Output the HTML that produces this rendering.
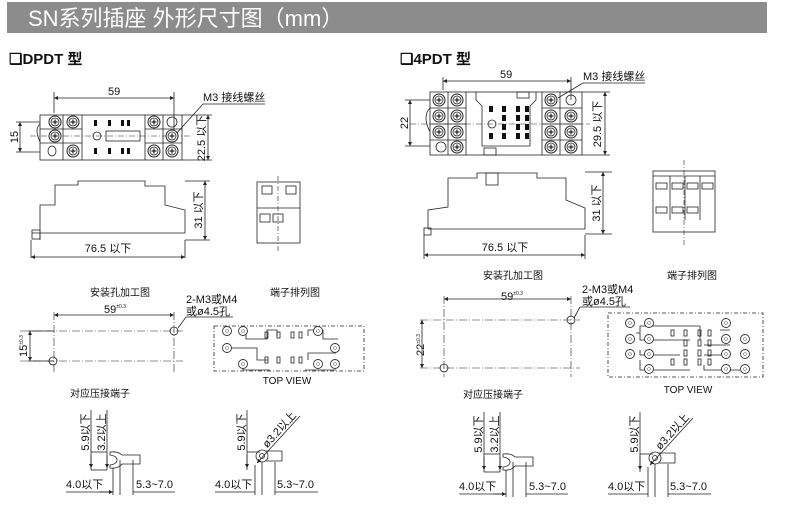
<!DOCTYPE html>
<html><head><meta charset="utf-8"><style>
html,body{margin:0;padding:0;background:#fff;}
svg{display:block;font-family:"Liberation Sans","Noto Sans CJK SC",sans-serif;}
</style></head><body>
<svg width="790" height="507" viewBox="0 0 790 507" xmlns="http://www.w3.org/2000/svg">
<defs>
<g id="scr"><circle r="6" fill="#fff" stroke="#222" stroke-width="1"/><circle r="4" fill="none" stroke="#222" stroke-width="0.8"/><path d="M-2.5 0H2.5M0 -2.5V2.5" stroke="#222" stroke-width="1.2"/></g>
<g id="tc"><circle r="4.5" fill="#fff" stroke="#333" stroke-width="0.9"/><circle r="1.5" fill="none" stroke="#666" stroke-width="0.6"/></g>
<marker id="a" viewBox="0 0 6 6" refX="6" refY="3" markerWidth="5" markerHeight="5" orient="auto-start-reverse"><path d="M0 0L6 3L0 6z" fill="#222"/></marker>
</defs>
<rect x="7" y="2" width="760" height="31" fill="#8c8c8c"/>
<text x="28" y="26" font-size="22" fill="#fff">SN系列插座 外形尺寸图（mm）</text>

<text x="9" y="64" font-size="15" font-weight="bold" fill="#111">❑DPDT 型</text>
<text x="400" y="64" font-size="15" font-weight="bold" fill="#111">❑4PDT 型</text>

<g stroke="#222" fill="none" stroke-width="0.8">
<!-- DPDT top view -->
<rect x="40" y="115" width="142" height="45"/>
<line x1="63" y1="115" x2="63" y2="160"/><line x1="82" y1="115" x2="82" y2="160"/>
<line x1="145" y1="115" x2="145" y2="160"/><line x1="163" y1="115" x2="163" y2="160"/>
<line x1="40" y1="129" x2="82" y2="129"/><line x1="40" y1="143" x2="82" y2="143"/>
<line x1="145" y1="129" x2="182" y2="129"/><line x1="145" y1="143" x2="182" y2="143"/>
<path d="M40 124 q-6 5 0 18"/>
<line x1="30" y1="136" x2="190" y2="136" stroke-dasharray="6 2 1 2" stroke-width="0.6"/>
<circle cx="97" cy="136" r="4"/><rect x="106" y="131" width="34" height="10"/>
<ellipse cx="52" cy="151" rx="4" ry="5"/><ellipse cx="172" cy="122" rx="5" ry="5"/>
<line x1="54" y1="92" x2="54" y2="113"/><line x1="174" y1="92" x2="174" y2="135"/>
<line x1="54" y1="98" x2="174" y2="98" marker-start="url(#a)" marker-end="url(#a)"/>
<line x1="175" y1="135" x2="203" y2="104"/><line x1="203" y1="104" x2="265" y2="104"/>
<line x1="182" y1="115" x2="212" y2="115"/><line x1="182" y1="160" x2="212" y2="160"/>
<line x1="208" y1="115" x2="208" y2="160" marker-start="url(#a)" marker-end="url(#a)"/>
<line x1="16" y1="122" x2="40" y2="122"/><line x1="16" y1="152" x2="40" y2="152"/>
<line x1="20" y1="122" x2="20" y2="152" marker-start="url(#a)" marker-end="url(#a)"/>
<!-- DPDT side -->
<path d="M32 233 H185 V210 L165 205 V186 H145 V181 H78 V185 H55 V205 H40 V233"/>
<rect x="32" y="230" width="8" height="9"/>
<line x1="40" y1="233" x2="40" y2="240"/>
<line x1="185" y1="181" x2="210" y2="181"/><line x1="185" y1="240" x2="210" y2="240"/>
<line x1="205" y1="181" x2="205" y2="240" marker-start="url(#a)" marker-end="url(#a)"/>
<line x1="31" y1="240" x2="31" y2="258"/><line x1="185" y1="240" x2="185" y2="258"/>
<line x1="31" y1="257" x2="185" y2="257" marker-start="url(#a)" marker-end="url(#a)"/>
<!-- DPDT end -->
<rect x="257" y="182" width="43" height="61"/>
<line x1="257" y1="208" x2="300" y2="208"/>
<line x1="278" y1="176" x2="278" y2="252" stroke-dasharray="5 2 1 2" stroke-width="0.6"/>
<rect x="262" y="186" width="10" height="8"/><rect x="286" y="186" width="10" height="8"/>
<rect x="260" y="214" width="10" height="8"/><rect x="273" y="214" width="10" height="8"/>

<!-- 4PDT top -->
<rect x="430" y="92" width="152" height="63"/>
<line x1="448" y1="92" x2="448" y2="155"/><line x1="466" y1="92" x2="466" y2="155"/>
<line x1="542" y1="92" x2="542" y2="155"/><line x1="560" y1="92" x2="560" y2="155"/>
<line x1="430" y1="108" x2="466" y2="108"/><line x1="430" y1="124" x2="466" y2="124"/><line x1="430" y1="140" x2="466" y2="140"/>
<line x1="542" y1="108" x2="582" y2="108"/><line x1="542" y1="124" x2="582" y2="124"/><line x1="542" y1="140" x2="582" y2="140"/>
<path d="M476 92 V100 L482 106 V146 H530 V106 L536 100 V92"/>
<rect x="517" y="92" width="12" height="6"/><rect x="484" y="148" width="12" height="7"/>
<circle cx="492" cy="124" r="4"/>
<ellipse cx="441" cy="147" rx="5" ry="5"/><ellipse cx="571" cy="100" rx="5" ry="5"/>
<line x1="410" y1="124" x2="590" y2="124" stroke-dasharray="6 2 1 2" stroke-width="0.6"/>
<path d="M430 108 q-8 8 0 24"/>
<line x1="443" y1="77" x2="443" y2="90"/><line x1="571" y1="77" x2="571" y2="100"/>
<line x1="443" y1="81" x2="571" y2="81" marker-start="url(#a)" marker-end="url(#a)"/>
<line x1="558" y1="98" x2="583" y2="83"/><line x1="583" y1="83" x2="645" y2="83"/>
<line x1="582" y1="92" x2="610" y2="92"/><line x1="582" y1="155" x2="610" y2="155"/>
<line x1="605" y1="92" x2="605" y2="155" marker-start="url(#a)" marker-end="url(#a)"/>
<line x1="405" y1="100" x2="430" y2="100"/><line x1="405" y1="146" x2="430" y2="146"/>
<line x1="410" y1="100" x2="410" y2="146" marker-start="url(#a)" marker-end="url(#a)"/>
<!-- 4PDT side -->
<path d="M428 229 H585 V208 L566 200 V178 H537 V173 H477 V178 H448 V207 L428 210 V229"/>
<rect x="424" y="228" width="7" height="7"/>
<rect x="486" y="173" width="12" height="12"/>
<line x1="585" y1="172" x2="612" y2="172"/><line x1="585" y1="234" x2="612" y2="234"/>
<line x1="603" y1="172" x2="603" y2="234" marker-start="url(#a)" marker-end="url(#a)"/>
<line x1="424" y1="235" x2="424" y2="259"/><line x1="585" y1="235" x2="585" y2="259"/>
<line x1="424" y1="255" x2="585" y2="255" marker-start="url(#a)" marker-end="url(#a)"/>
<!-- 4PDT end -->
<rect x="653" y="171" width="62" height="61"/>
<line x1="653" y1="176" x2="715" y2="176"/>
<line x1="670" y1="176" x2="670" y2="220"/><line x1="685" y1="176" x2="685" y2="220"/><line x1="700" y1="176" x2="700" y2="220"/>
<line x1="684" y1="160" x2="684" y2="247" stroke-dasharray="5 2 1 2" stroke-width="0.6"/>
<rect x="656" y="183" width="11" height="6"/><rect x="672" y="183" width="11" height="6"/><rect x="687" y="183" width="11" height="6"/><rect x="702" y="183" width="11" height="6"/>
<rect x="656" y="207" width="11" height="6"/><rect x="672" y="207" width="11" height="6"/><rect x="687" y="207" width="11" height="6"/>
</g>

<!-- screws DPDT -->
<use href="#scr" x="55" y="122"/><use href="#scr" x="73" y="122"/><use href="#scr" x="55" y="136"/><use href="#scr" x="73" y="151"/>
<use href="#scr" x="154" y="122"/><use href="#scr" x="172" y="136"/><use href="#scr" x="154" y="151"/><use href="#scr" x="172" y="151"/>
<g fill="#111"><rect x="94" y="120" width="3" height="6"/><rect x="108" y="120" width="3" height="6"/><rect x="121" y="120" width="3" height="6"/><rect x="127" y="120" width="3" height="6"/>
<rect x="94" y="148" width="3" height="6"/><rect x="108" y="148" width="3" height="6"/><rect x="121" y="148" width="3" height="6"/><rect x="127" y="148" width="3" height="6"/></g>
<!-- screws 4PDT -->
<use href="#scr" x="439" y="100"/><use href="#scr" x="457" y="100"/>
<use href="#scr" x="439" y="116"/><use href="#scr" x="457" y="116"/>
<use href="#scr" x="439" y="132"/><use href="#scr" x="457" y="132"/><use href="#scr" x="457" y="147"/>
<use href="#scr" x="551" y="100"/>
<use href="#scr" x="551" y="116"/><use href="#scr" x="571" y="116"/>
<use href="#scr" x="551" y="132"/><use href="#scr" x="571" y="132"/>
<use href="#scr" x="551" y="147"/><use href="#scr" x="571" y="147"/>
<g fill="#111">
<rect x="489" y="106" width="4" height="6"/><rect x="489" y="133" width="4" height="6"/>
<rect x="502" y="106" width="4" height="6"/><rect x="502" y="115" width="4" height="6"/><rect x="502" y="124" width="4" height="6"/><rect x="502" y="133" width="4" height="6"/>
<rect x="516" y="106" width="4" height="6"/><rect x="516" y="115" width="4" height="6"/><rect x="516" y="124" width="4" height="6"/><rect x="516" y="133" width="4" height="6"/>
<rect x="525" y="106" width="4" height="6"/><rect x="525" y="115" width="4" height="6"/><rect x="525" y="124" width="4" height="6"/><rect x="525" y="133" width="4" height="6"/>
</g>

<g font-size="11" fill="#111">
<text x="108" y="95">59</text>
<text x="203" y="101">M3 接线螺丝</text>
<text transform="translate(205,138) rotate(-90)" text-anchor="middle">22.5 以下</text>
<text transform="translate(18,137) rotate(-90)" text-anchor="middle">15</text>
<text transform="translate(202,210) rotate(-90)" text-anchor="middle">31 以下</text>
<text x="108" y="252" text-anchor="middle">76.5 以下</text>
<text x="500" y="78">59</text>
<text x="583" y="80">M3 接线螺丝</text>
<text transform="translate(601,124) rotate(-90)" text-anchor="middle">29.5 以下</text>
<text transform="translate(408,123) rotate(-90)" text-anchor="middle">22</text>
<text transform="translate(600,203) rotate(-90)" text-anchor="middle">31 以下</text>
<text x="505" y="251" text-anchor="middle">76.5 以下</text>

<text x="120" y="296" text-anchor="middle" font-size="10">安装孔加工图</text>
<text x="295" y="296" text-anchor="middle" font-size="10">端子排列图</text>
<text x="513" y="279" text-anchor="middle" font-size="10">安装孔加工图</text>
<text x="692" y="279" text-anchor="middle" font-size="10">端子排列图</text>
<text x="104" y="313">59<tspan font-size="5" dy="-5">±0.3</tspan></text>
<text x="186" y="303">2-M3或M4</text><text x="186" y="315">或ø4.5孔</text>
<text x="501" y="300">59<tspan font-size="5" dy="-5">±0.3</tspan></text>
<text x="582" y="293">2-M3或M4</text><text x="582" y="305">或ø4.5孔</text>
<text transform="translate(27,346) rotate(-90)" text-anchor="middle">15<tspan font-size="5" dy="-4">±0.3</tspan></text>
<text transform="translate(424,345) rotate(-90)" text-anchor="middle">22<tspan font-size="5" dy="-4">±0.3</tspan></text>
<text x="287" y="384" text-anchor="middle" font-size="10">TOP VIEW</text>
<text x="688" y="393" text-anchor="middle" font-size="10">TOP VIEW</text>
<text x="70" y="397" font-size="10">对应压接端子</text>
<text x="463" y="398" font-size="10">对应压接端子</text>
</g>

<g stroke="#222" fill="none" stroke-width="0.8">
<line x1="233" y1="317" x2="186" y2="317"/><line x1="186" y1="317" x2="178" y2="328"/>
<line x1="630" y1="307" x2="580" y2="307"/><line x1="580" y1="307" x2="574" y2="318"/>
<g stroke-dasharray="8 2 1 2" stroke-width="0.6">
<line x1="20" y1="331" x2="183" y2="331"/><line x1="20" y1="361" x2="183" y2="361"/>
<line x1="54" y1="312" x2="54" y2="372"/><line x1="174" y1="312" x2="174" y2="372"/>
<line x1="420" y1="320" x2="580" y2="320"/><line x1="420" y1="368" x2="580" y2="368"/>
<line x1="444" y1="296" x2="444" y2="377"/><line x1="571" y1="296" x2="571" y2="377"/>
</g>
<circle cx="174" cy="331" r="4"/><circle cx="53" cy="361" r="4"/>
<circle cx="571" cy="320" r="4"/><circle cx="444" cy="368" r="4"/>
<line x1="54" y1="315" x2="174" y2="315" marker-start="url(#a)" marker-end="url(#a)"/>
<line x1="444" y1="299" x2="571" y2="299" marker-start="url(#a)" marker-end="url(#a)"/>
<line x1="30" y1="331" x2="30" y2="361" marker-start="url(#a)" marker-end="url(#a)"/>
<line x1="422" y1="320" x2="422" y2="368" marker-start="url(#a)" marker-end="url(#a)"/>
<line x1="28" y1="331" x2="54" y2="331"/><line x1="28" y1="361" x2="54" y2="361"/>
<rect x="214" y="326" width="150" height="45" stroke-dasharray="4 2 1 2"/>
<rect x="608" y="313" width="155" height="64" stroke-dasharray="4 2 1 2"/>
<path d="M246 330 V339 H267 V330 H277 V336 M308 336 V330 H323 V339 H338"/>
<path d="M228 348 H257 V360 H268 M308 360 V353 H320 H336"/>
<path d="M243 364 V370 H270 M305 370 H336"/>
<path d="M636 333 H640 V326 H700 M640 333 V340 H660 H690 M640 360 V370 H690 M640 350 V355 H680 M700 326 V340 M704 345 H730 M704 355 H730 M720 330 H730 M704 365 V370 H740"/>
</g>
<use href="#tc" x="227" y="331"/><use href="#tc" x="243" y="331"/><use href="#tc" x="227" y="348"/>
<use href="#tc" x="243" y="364"/><use href="#tc" x="318" y="331"/><use href="#tc" x="335" y="348"/><use href="#tc" x="318" y="364"/><use href="#tc" x="335" y="364"/>
<g fill="none" stroke="#222" stroke-width="0.8">
<rect x="265" y="332" width="3" height="6"/><rect x="277" y="332" width="3" height="6"/><rect x="291" y="332" width="3" height="6"/><rect x="299" y="332" width="3" height="6"/>
<rect x="265" y="357" width="3" height="6"/><rect x="277" y="357" width="3" height="6"/><rect x="291" y="357" width="3" height="6"/><rect x="299" y="357" width="3" height="6"/>
<rect x="671" y="330" width="3" height="6"/><rect x="684" y="330" width="3" height="6"/><rect x="698" y="330" width="3" height="6"/><rect x="708" y="330" width="3" height="6"/>
<rect x="684" y="340" width="3" height="6"/><rect x="698" y="340" width="3" height="6"/><rect x="708" y="340" width="3" height="6"/>
<rect x="684" y="350" width="3" height="6"/><rect x="698" y="350" width="3" height="6"/><rect x="708" y="350" width="3" height="6"/>
<rect x="671" y="359" width="3" height="6"/><rect x="684" y="359" width="3" height="6"/><rect x="698" y="359" width="3" height="6"/><rect x="708" y="359" width="3" height="6"/>
</g>
<use href="#tc" x="630" y="323"/><use href="#tc" x="649" y="323"/><use href="#tc" x="630" y="339"/><use href="#tc" x="649" y="339"/>
<use href="#tc" x="630" y="354"/><use href="#tc" x="649" y="354"/><use href="#tc" x="649" y="369"/>
<use href="#tc" x="726" y="323"/><use href="#tc" x="726" y="339"/><use href="#tc" x="745" y="339"/><use href="#tc" x="726" y="354"/><use href="#tc" x="745" y="354"/><use href="#tc" x="726" y="369"/><use href="#tc" x="745" y="369"/>

<!-- crimp terminals -->
<g id="cr1" stroke="#222" fill="none" stroke-width="0.8">
<line x1="91" y1="410" x2="91" y2="470"/><line x1="107" y1="410" x2="107" y2="470"/>
<line x1="91" y1="452" x2="107" y2="452"/><line x1="91" y1="470" x2="107" y2="470"/>
<line x1="91" y1="455" x2="91" y2="468" marker-end="url(#a)"/>
<line x1="107" y1="455" x2="107" y2="468" marker-end="url(#a)"/>
<path d="M110 452 Q118 451 122 455 H140 V464 H122 Q118 469 110 468 V465 Q117 464 117 460 Q117 456 110 455 z"/>
<line x1="113" y1="468" x2="113" y2="495"/><line x1="120" y1="460" x2="120" y2="495"/><line x1="133" y1="460" x2="133" y2="495"/>
<line x1="66" y1="492" x2="113" y2="492"/><line x1="133" y1="492" x2="175" y2="492"/>
<line x1="100" y1="492" x2="113" y2="492" marker-end="url(#a)"/>
</g>
<g id="cr2" stroke="#222" fill="none" stroke-width="0.8">
<line x1="247" y1="410" x2="247" y2="470"/>
<line x1="247" y1="452" x2="260" y2="452"/>
<line x1="247" y1="455" x2="247" y2="468" marker-end="url(#a)"/>
<circle cx="262" cy="456" r="6"/><circle cx="262" cy="456" r="2.5"/>
<path d="M266 451 H282 V461 H266"/>
<line x1="300" y1="416" x2="257" y2="463" marker-end="url(#a)"/>
<line x1="255" y1="465" x2="255" y2="495"/><line x1="262" y1="462" x2="262" y2="495"/><line x1="275" y1="462" x2="275" y2="495"/>
<line x1="215" y1="492" x2="255" y2="492"/><line x1="275" y1="492" x2="318" y2="492"/>
</g>
<use href="#cr1" x="393" y="2"/>
<use href="#cr2" x="393" y="2"/>
<g font-size="11" fill="#111">
<text transform="translate(89,432) rotate(-90)" text-anchor="middle">5.9以下</text>
<text transform="translate(105,432) rotate(-90)" text-anchor="middle">3.2以上</text>
<text x="66" y="488">4.0以下</text><text x="136" y="488">5.3~7.0</text>
<text transform="translate(245,432) rotate(-90)" text-anchor="middle">5.9以下</text>
<text transform="translate(282,432) rotate(-48)" text-anchor="middle">ø3.2以上</text>
<text x="215" y="488">4.0以下</text><text x="277" y="488">5.3~7.0</text>
<text transform="translate(482,434) rotate(-90)" text-anchor="middle">5.9以下</text>
<text transform="translate(498,434) rotate(-90)" text-anchor="middle">3.2以上</text>
<text x="459" y="490">4.0以下</text><text x="529" y="490">5.3~7.0</text>
<text transform="translate(638,434) rotate(-90)" text-anchor="middle">5.9以下</text>
<text transform="translate(675,434) rotate(-48)" text-anchor="middle">ø3.2以上</text>
<text x="608" y="490">4.0以下</text><text x="670" y="490">5.3~7.0</text>
</g>
</svg>
</body></html>
